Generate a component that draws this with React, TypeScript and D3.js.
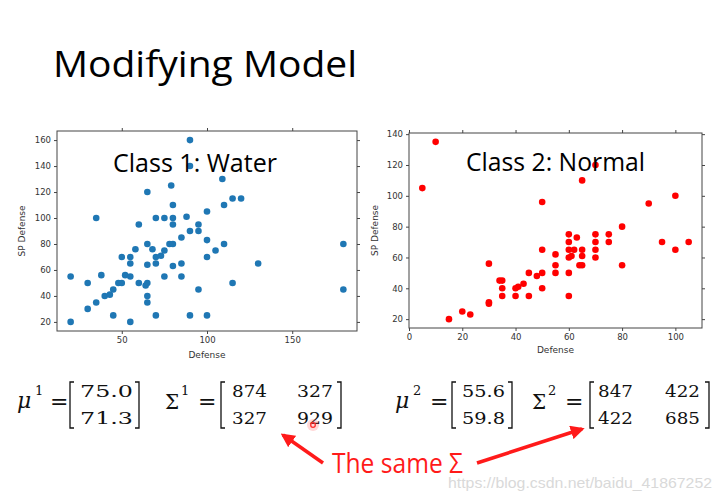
import React, { useRef, useEffect } from 'react';
import * as d3 from 'd3';

// Class 1: Water  (Defense vs SP Defense)
const waterDefense = [90, 90, 109, 79, 65, 115, 120, 110, 80, 35, 70, 75, 80, 100, 88, 60, 80, 95, 90, 95,
  85, 100, 58, 65, 68, 78, 80, 110, 180, 75, 105, 50, 55, 70, 73, 100, 55, 65, 70, 85,
  130, 80, 20, 38, 52, 55, 75, 85, 30, 48, 50, 60, 65, 64, 115, 45, 95, 180, 40, 43,
  65, 35, 65, 30, 45, 70, 90, 100, 20, 55];
const waterSpDefense = [160, 140, 130, 125, 120, 115, 115, 110, 110, 100, 100, 100, 100, 105, 101, 95, 95, 95, 90, 90,
  85, 83, 76, 80, 76, 80, 80, 80, 80, 75, 75, 70, 70, 70, 71, 70, 65, 64, 65, 65,
  65, 63, 55, 56, 56, 55, 55, 55, 50, 50, 50, 50, 50, 48, 50, 45, 45, 45, 40, 41,
  40, 35, 35, 30, 25, 25, 25, 25, 20, 20];

// Class 2: Normal
const normalDefense = [10, 5, 70, 65, 50, 100, 90, 80, 60, 63, 70, 75, 60, 70, 75, 95, 105, 50, 60, 62,
  65, 70, 100, 55, 61, 65, 60, 70, 30, 55, 64, 65, 80, 45, 50, 55, 60, 48, 43, 34,
  35, 40, 41, 35, 50, 35, 40, 45, 60, 30, 30, 20, 23, 15];
const normalSpDefense = [135, 105, 120, 110, 96, 100, 95, 80, 75, 73, 75, 75, 70, 70, 70, 70, 70, 65, 65, 65,
  65, 65, 65, 62, 61, 61, 60, 60, 56, 55, 55, 55, 55, 50, 50, 50, 50, 48, 43, 45,
  45, 40, 41, 40, 40, 35, 35, 35, 35, 31, 30, 25, 23, 20];

const waterXTicks = [50, 100, 150];
const waterYTicks = [20, 40, 60, 80, 100, 120, 140, 160];
const normalXTicks = [0, 20, 40, 60, 80, 100];
const normalYTicks = [20, 40, 60, 80, 100, 120, 140];

const mu1 = [75.0, 71.3];
const sigma1 = [[874, 327], [327, 929]];
const mu2 = [55.6, 59.8];
const sigma2 = [[847, 422], [422, 685]];

const panels = [
  {
    label: 'Class 1: Water', xs: waterDefense, ys: waterSpDefense,
    xDomain: [12, 188], yDomain: [13, 167], xTicks: waterXTicks, yTicks: waterYTicks,
    color: '#1f77b4', left: 57, right: 357, top: 131, bottom: 331,
    labelX: 113, labelW: 164, labelY: 172, yLabelX: 22, xLabelY: 358,
  },
  {
    label: 'Class 2: Normal', xs: normalDefense, ys: normalSpDefense,
    xDomain: [0, 110], yDomain: [14.25, 140.75], xTicks: normalXTicks, yTicks: normalYTicks,
    color: '#ff0000', left: 409, right: 702, top: 133, bottom: 328,
    labelX: 466, labelW: 179, labelY: 171, yLabelX: 375, xLabelY: 353,
  },
];

const MATH = '"DejaVu Serif", serif';
const SANS = '"Open Sans", sans-serif';

const Bracket = ({ x, side, y0 = 382, y1 = 428 }) => {
  const d = side === 'l'
    ? `M${x + 4},${y0} H${x} V${y1} H${x + 4}`
    : `M${x - 4},${y0} H${x} V${y1} H${x - 4}`;
  return <path d={d} fill="none" stroke="#111" strokeWidth={1.3} />;
};

const Cell = ({ x0, x1, y, text }) => (
  <text x={(x0 + x1) / 2} y={y} textAnchor="middle" textLength={x1 - x0}
    lengthAdjust="spacingAndGlyphs" fontFamily={MATH} fontSize={17} fill="#111">{text}</text>
);

const Formula = ({ muVals, sigVals, sup, pos }) => {
  const rows = [397, 424];
  return (
    <g>
      <text x={pos.mu} y={408} fontFamily={MATH} fontStyle="italic" fontSize={22} fill="#111">μ</text>
      <text x={pos.mu + 18} y={395} fontFamily={MATH} fontSize={13} fill="#111">{sup}</text>
      <text x={pos.eq1} y={409} fontFamily={MATH} fontSize={22} fill="#111">=</text>
      <Bracket x={pos.b1} side="l" />
      {muVals.map((v, i) => (
        <Cell key={i} x0={pos.m0} x1={pos.m1} y={rows[i]} text={v.toFixed(1)} />
      ))}
      <Bracket x={pos.b2} side="r" />
      <text x={pos.sig} y={409} fontFamily={MATH} fontSize={20} fill="#111">Σ</text>
      <text x={pos.sig + 16} y={395} fontFamily={MATH} fontSize={13} fill="#111">{sup}</text>
      <text x={pos.eq2} y={409} fontFamily={MATH} fontSize={22} fill="#111">=</text>
      <Bracket x={pos.b3} side="l" />
      {sigVals.map((r, i) => r.map((v, j) => (
        <Cell key={`${i}-${j}`} x0={pos.c[j][0]} x1={pos.c[j][1]} y={rows[i]} text={String(v)} />
      )))}
      <Bracket x={pos.b4} side="r" />
    </g>
  );
};

const App = () => {
  const plotRef = useRef(null);

  useEffect(() => {
    const root = d3.select(plotRef.current);
    root.selectAll('*').remove();

    panels.forEach(p => {
      const g = root.append('g');
      const x = d3.scaleLinear().domain(p.xDomain).range([p.left, p.right]);
      const y = d3.scaleLinear().domain(p.yDomain).range([p.bottom, p.top]);

      g.append('rect')
        .attr('x', p.left).attr('y', p.top)
        .attr('width', p.right - p.left).attr('height', p.bottom - p.top)
        .attr('fill', '#fff');

      const styleAxis = sel => {
        sel.select('.domain').remove();
        sel.attr('font-family', '"DejaVu Sans", sans-serif').attr('font-size', 8.5);
        sel.selectAll('line').attr('stroke', '#444');
        sel.selectAll('text').attr('fill', '#333');
      };

      g.append('g').attr('transform', `translate(0,${p.bottom})`)
        .call(d3.axisBottom(x).tickValues(p.xTicks).tickSize(3).tickPadding(3)).call(styleAxis);
      g.append('g').attr('transform', `translate(0,${p.top})`)
        .call(d3.axisTop(x).tickValues(p.xTicks).tickSize(3).tickFormat(() => '')).call(styleAxis);
      g.append('g').attr('transform', `translate(${p.left},0)`)
        .call(d3.axisLeft(y).tickValues(p.yTicks).tickSize(3).tickPadding(3)).call(styleAxis);
      g.append('g').attr('transform', `translate(${p.right},0)`)
        .call(d3.axisRight(y).tickValues(p.yTicks).tickSize(3).tickFormat(() => '')).call(styleAxis);

      g.append('g')
        .selectAll('circle')
        .data(p.xs.map((v, i) => [v, p.ys[i]]))
        .enter()
        .append('circle')
        .attr('cx', d => x(d[0]))
        .attr('cy', d => y(d[1]))
        .attr('r', 3.3)
        .attr('fill', p.color);

      g.append('rect')
        .attr('x', p.left).attr('y', p.top)
        .attr('width', p.right - p.left).attr('height', p.bottom - p.top)
        .attr('fill', 'none').attr('stroke', '#444').attr('stroke-width', 1);

      g.append('text')
        .attr('x', (p.left + p.right) / 2).attr('y', p.xLabelY)
        .attr('text-anchor', 'middle')
        .attr('font-family', '"DejaVu Sans", sans-serif').attr('font-size', 9)
        .attr('fill', '#333')
        .text('Defense');

      g.append('text')
        .attr('transform', `translate(${p.yLabelX},${(p.top + p.bottom) / 2}) rotate(-90)`)
        .attr('text-anchor', 'middle').attr('dy', '0.35em')
        .attr('font-family', '"DejaVu Sans", sans-serif').attr('font-size', 9)
        .attr('fill', '#333')
        .text('SP Defense');

      // slide text sits on top of the dots
      g.append('text')
        .attr('x', p.labelX).attr('y', p.labelY)
        .attr('textLength', p.labelW).attr('lengthAdjust', 'spacingAndGlyphs')
        .attr('font-family', SANS).attr('font-size', 26)
        .attr('fill', '#000')
        .text(p.label);
    });
  }, []);

  const pos1 = {
    mu: 17, eq1: 50, b1: 70, m0: 80, m1: 133, b2: 139, sig: 165, eq2: 198, b3: 221,
    c: [[232, 267], [297, 333]], b4: 341,
  };
  const pos2 = {
    mu: 395, eq1: 430, b1: 452, m0: 462, m1: 505, b2: 512, sig: 532, eq2: 565, b3: 590,
    c: [[598, 633], [665, 700]], b4: 709,
  };

  return (
    <svg width={723} height={502} style={{ position: 'absolute', left: 0, top: 0, background: '#fff' }}>
      <defs>
        <marker id="arrowHead" viewBox="0 0 10 10" refX={8} refY={5} markerWidth={4} markerHeight={4}
          orient="auto-start-reverse">
          <path d="M0,0 L10,5 L0,10 z" fill="#ff1a1a" />
        </marker>
      </defs>
      <rect width={723} height={502} fill="#fff" />
      <text x={53} y={77} textLength={304} lengthAdjust="spacingAndGlyphs"
        fontFamily={SANS} fontSize={36} fill="#000">Modifying Model</text>

      <g ref={plotRef} />

      <Formula muVals={mu1} sigVals={sigma1} sup="1" pos={pos1} />
      <Formula muVals={mu2} sigVals={sigma2} sup="2" pos={pos2} />

      <circle cx={313} cy={425} r={6} fill="#ff6060" opacity={0.25} />
      <circle cx={313} cy={425} r={2.3} fill="none" stroke="#ff2a2a" strokeWidth={1.3} />

      <line x1={323} y1={463} x2={283} y2={435} stroke="#ff1a1a" strokeWidth={3.5} markerEnd="url(#arrowHead)" />
      <line x1={477} y1={463} x2={582} y2={429} stroke="#ff1a1a" strokeWidth={3.5} markerEnd="url(#arrowHead)" />
      <text x={332} y={473} textLength={131} lengthAdjust="spacingAndGlyphs"
        fontFamily={SANS} fontSize={27} fill="#ff1a1a">The same Σ</text>

      <text x={448} y={488} textLength={264} lengthAdjust="spacingAndGlyphs"
        fontFamily='"Liberation Sans", sans-serif' fontSize={14.5} fill="#d9d9d9">https://blog.csdn.net/baidu_41867252</text>
    </svg>
  );
};

export default App;
